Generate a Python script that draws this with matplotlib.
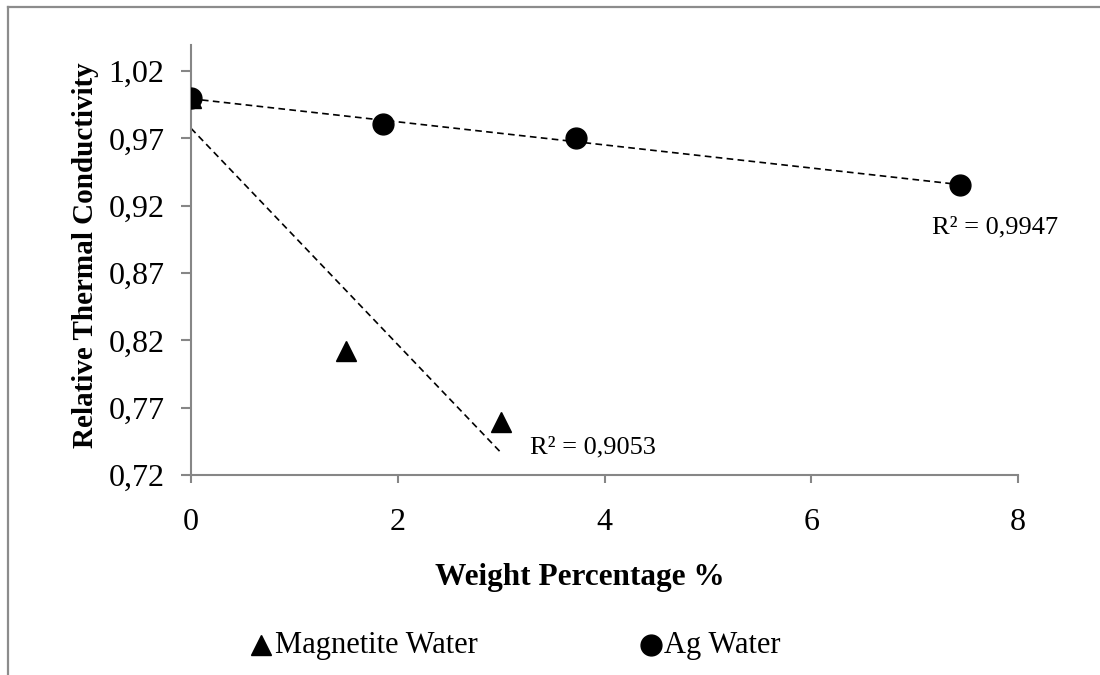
import numpy as np
import matplotlib
matplotlib.use("Agg")
import matplotlib.pyplot as plt
from matplotlib.lines import Line2D

plt.rcParams['font.family'] = ['Liberation Serif', 'DejaVu Serif']

# Measured relative thermal conductivity
magnetite_wt = [0.0, 1.5, 3.0]
magnetite_k = [1.000, 0.812, 0.759]
ag_wt = [0.0, 1.86, 3.72, 7.44]
ag_k = [1.000, 0.981, 0.970, 0.935]

magnetite_r2 = "R² = 0,9053"
ag_r2 = "R² = 0,9947"

x_ticks = [0, 2, 4, 6, 8]
y_ticks = [0.72, 0.77, 0.82, 0.87, 0.92, 0.97, 1.02]
y_tick_labels = ["0,72", "0,77", "0,82", "0,87", "0,92", "0,97", "1,02"]

fig = plt.figure(figsize=(11, 6.75), dpi=100)
ax = fig.add_axes([0.1736, 0.2963, 0.7519, 0.637])

gray = "#868686"

# Linear trend lines
for xs, ys in [(magnetite_wt, magnetite_k), (ag_wt, ag_k)]:
    slope, icpt = np.polyfit(xs, ys, 1)
    xx = np.array([min(xs), max(xs)])
    ax.plot(xx, slope * xx + icpt, color="black", lw=1.2,
            linestyle=(0, (4, 2.6)), zorder=2)

mag_line, = ax.plot(magnetite_wt, magnetite_k, linestyle="none", marker="^",
                    markersize=15, color="black", zorder=3)
ag_line, = ax.plot(ag_wt, ag_k, linestyle="none", marker="o",
                   markersize=15, color="black", zorder=4)

ax.text(3.279, 0.7363, magnetite_r2, fontsize=19, va="baseline", ha="left")
ax.text(7.168, 0.8997, ag_r2, fontsize=19, va="baseline", ha="left")

ax.set_xlim(0, 8)
ax.set_ylim(0.72, 1.0393)
ax.set_xticks(x_ticks)
ax.set_xticklabels([str(t) for t in x_ticks])
ax.set_yticks(y_ticks)
ax.set_yticklabels(y_tick_labels)
ax.tick_params(axis="both", labelsize=23, color=gray, width=1.5,
               direction="out")
ax.tick_params(axis="x", length=6, pad=18)
ax.tick_params(axis="y", length=7, pad=12)

for side in ["top", "right"]:
    ax.spines[side].set_visible(False)
for side in ["left", "bottom"]:
    ax.spines[side].set_color(gray)
    ax.spines[side].set_linewidth(1.5)

ax.set_xlabel("Weight Percentage %", fontsize=22.5, fontweight="bold",
              va="center", ha="center")
ax.xaxis.set_label_coords(0.470, -0.2395)
ax.set_ylabel("Relative Thermal Conductivity", fontsize=21,
              fontweight="bold", va="center", ha="center")
ax.yaxis.set_label_coords(-0.128, 0.5116)

# Legend entries along the bottom of the chart area
leg_y = 1 - 645 / 675
for handle, name, mx, tx in [(mag_line, "Magnetite Water", 261, 275),
                             (ag_line, "Ag Water", 651, 664)]:
    fig.add_artist(Line2D([mx / 1100], [leg_y], transform=fig.transFigure,
                          linestyle="none", marker=handle.get_marker(),
                          markersize=15, color="black"))
    fig.text(tx / 1100, leg_y, name, fontsize=22, va="center", ha="left")

# Chart area frame
fig.add_artist(Line2D([8 / 1100, 1.0], [1 - 7 / 675, 1 - 7 / 675],
                      color="#8c8c8c", lw=1.6, transform=fig.transFigure))
fig.add_artist(Line2D([8 / 1100, 8 / 1100], [0.0, 1 - 7 / 675],
                      color="#8c8c8c", lw=1.6, transform=fig.transFigure))

fig.savefig("out.png", dpi=100, facecolor="white")
